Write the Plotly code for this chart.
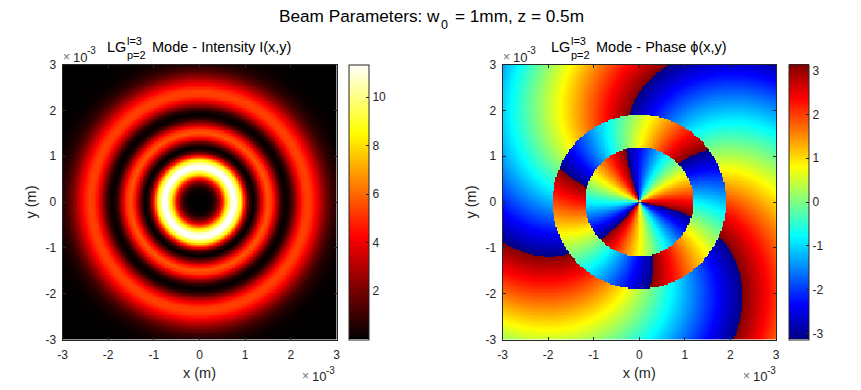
import numpy as np
import plotly.graph_objects as go
from plotly.subplots import make_subplots

W, H = 861, 390

# Radial intensity profile (r in mm, I in a.u.).
# The reference is rotationally symmetric, so the image is built from this table.
radius_mm = [0, .1, .2, .3, .4, .5, .6, .7, .75, .8, .9, 1.0, 1.1, 1.18, 1.2, 1.3, 1.4, 1.5, 1.6, 1.7, 1.8, 1.9,
             2.0, 2.1, 2.2, 2.3, 2.4, 2.5, 2.6, 2.7, 2.8, 2.9, 3.0, 3.2, 3.5, 4.3]
intensity = [0, 0, .04, .4, 1.7, 4.4, 8.05, 11.0, 11.34, 11.2, 8.67, 4.33, .87, 0, .09, 1.85, 4.38, 5.71, 4.97, 2.89,
             .82, 0, .69, 2.34, 4.05, 5.17, 5.35, 4.77, 3.78, 2.72, 1.77, 1.07, .6, .15, .01, 0]

# Phase reference angle per radial zone (deg), estimated from the wrap edges in the reference.
phase_r_inner = [0, .5, 1.0, 1.19]
phase_c_inner = [147, 144.5, 137, 133]
phase_r_ring = [1.19, 1.5, 1.9]
phase_c_ring = [313, 304.5, 291]
phase_r_outer = [1.9, 2.2, 2.5, 2.75, 3.0, 3.25, 3.5, 3.9, 4.3]
phase_c_outer = [110, 98.6, 84.5, 71.4, 57, 41.4, 24.5, -5, -38]
azimuthal_order = -3

x_ticks = [-3, -2, -1, 0, 1, 2, 3]
x_tick_text = ["-3", "-2", "-1", "0", "1", "2", "3"]
cb1_ticks = [2, 4, 6, 8, 10]
cb2_ticks = [-3, -2, -1, 0, 1, 2, 3]
cb2_text = ["-3", "-2", "-1", "0", "1", "2", "3"]

hot = [[0, "rgb(0,0,0)"], [.375, "rgb(255,0,0)"], [.75, "rgb(255,255,0)"], [1, "rgb(255,255,255)"]]
jet = [[0, "rgb(0,0,131)"], [.125, "rgb(0,0,255)"], [.375, "rgb(0,255,255)"],
       [.625, "rgb(255,255,0)"], [.875, "rgb(255,0,0)"], [1, "rgb(128,0,0)"]]

axis_pts = np.linspace(-3, 3, 200)
X, Y = np.meshgrid(axis_pts, axis_pts)
R, T = np.hypot(X, Y), np.degrees(np.arctan2(Y, X))
Z_int = np.interp(R, radius_mm, intensity)
offset = np.where(R < 1.19, np.interp(R, phase_r_inner, phase_c_inner),
                  np.where(R < 1.9, np.interp(R, phase_r_ring, phase_c_ring),
                           np.interp(R, phase_r_outer, phase_c_outer)))
Z_ph = np.radians((azimuthal_order * T + offset + 180) % 360 - 180)

fig = make_subplots(rows=1, cols=2)
x_m = axis_pts * 1e-3
cb_common = dict(thickness=20, thicknessmode="pixels", len=275 / H, lenmode="fraction", yanchor="top",
                 y=1 - 64.5 / H, xanchor="left", xpad=0, ypad=0, outlinecolor="#262626", outlinewidth=1,
                 ticks="inside", ticklen=3, tickcolor="#262626", ticklabelposition="outside",
                 tickfont=dict(size=12, color="#262626", family="Liberation Sans"))
fig.add_trace(go.Heatmap(x=x_m, y=x_m, z=Z_int, colorscale=hot, zmin=0, zmax=11.34,
                         colorbar=dict(x=349 / W, tickmode="array", tickvals=cb1_ticks, **cb_common)), 1, 1)
fig.add_trace(go.Heatmap(x=x_m, y=x_m, z=Z_ph, colorscale=jet, zmin=-np.pi, zmax=np.pi,
                         colorbar=dict(x=789 / W, tickmode="array", tickvals=cb2_ticks, ticktext=cb2_text,
                                       **cb_common)), 1, 2)

tick_m = [t * 1e-3 for t in x_ticks]
ax = dict(range=[-3e-3, 3e-3], tickmode="array", tickvals=tick_m, ticktext=x_tick_text, ticks="inside", ticklen=3,
          tickcolor="#262626", showline=True, mirror="ticks", linecolor="#262626", linewidth=1, showgrid=False,
          zeroline=False, tickfont=dict(size=12, color="#262626", family="Liberation Sans"),
          title_font=dict(size=14.5, color="#262626", family="Liberation Sans"))
fig.update_xaxes(title_text="x (m)", title_standoff=6, ticklabelstandoff=4, **ax)
fig.update_yaxes(title_text="y (m)", title_standoff=5, ticklabelstandoff=3, **ax)
fig.update_layout(
    xaxis=dict(domain=[62.5 / W, 336.5 / W]), yaxis=dict(domain=[1 - 339.5 / H, 1 - 64.5 / H]),
    xaxis2=dict(domain=[502.5 / W, 776 / W]), yaxis2=dict(domain=[1 - 339.5 / H, 1 - 64.5 / H]),
    width=W, height=H, margin=dict(l=0, r=0, t=0, b=0, autoexpand=False), autosize=False, paper_bgcolor="white",
    plot_bgcolor="white", font=dict(family="Liberation Sans"))


def label(px, py, text, size, color="black", anchor="left"):
    fig.add_annotation(x=px / W, y=1 - py / H, xref="paper", yref="paper", text=text, showarrow=False,
                       xanchor=anchor, yanchor="middle", font=dict(size=size, color=color), borderpad=0,
                       borderwidth=0)


label(279, 16, "Beam Parameters: w", 17.2)
label(441, 25, "0", 12.5)
label(455, 16, "= 1mm, z = 0.5m", 17.2)
for x0, txt, x1 in [(107, "Mode - Intensity I(x,y)", 152), (551, "Mode - Phase ϕ(x,y)", 596)]:
    label(x0, 47, "LG", 14.5)
    label(x0 + 20, 41, "l=3", 11)
    label(x0 + 20, 55, "p=2", 11)
    label(x1, 47, txt, 14.5)
for xl, xr in [(63, 302), (503, 743)]:
    for px, py in [(xl, 57), (xr, 376)]:
        label(px, py, "×", 12, "#707070")
        label(px + 10, py, "10", 13, "#262626")
        label(px + 24, py - 6, "-3", 10, "#262626")

fig.write_html("out.html", config={"displayModeBar": False}, post_script="document.body.style.margin='0';")
